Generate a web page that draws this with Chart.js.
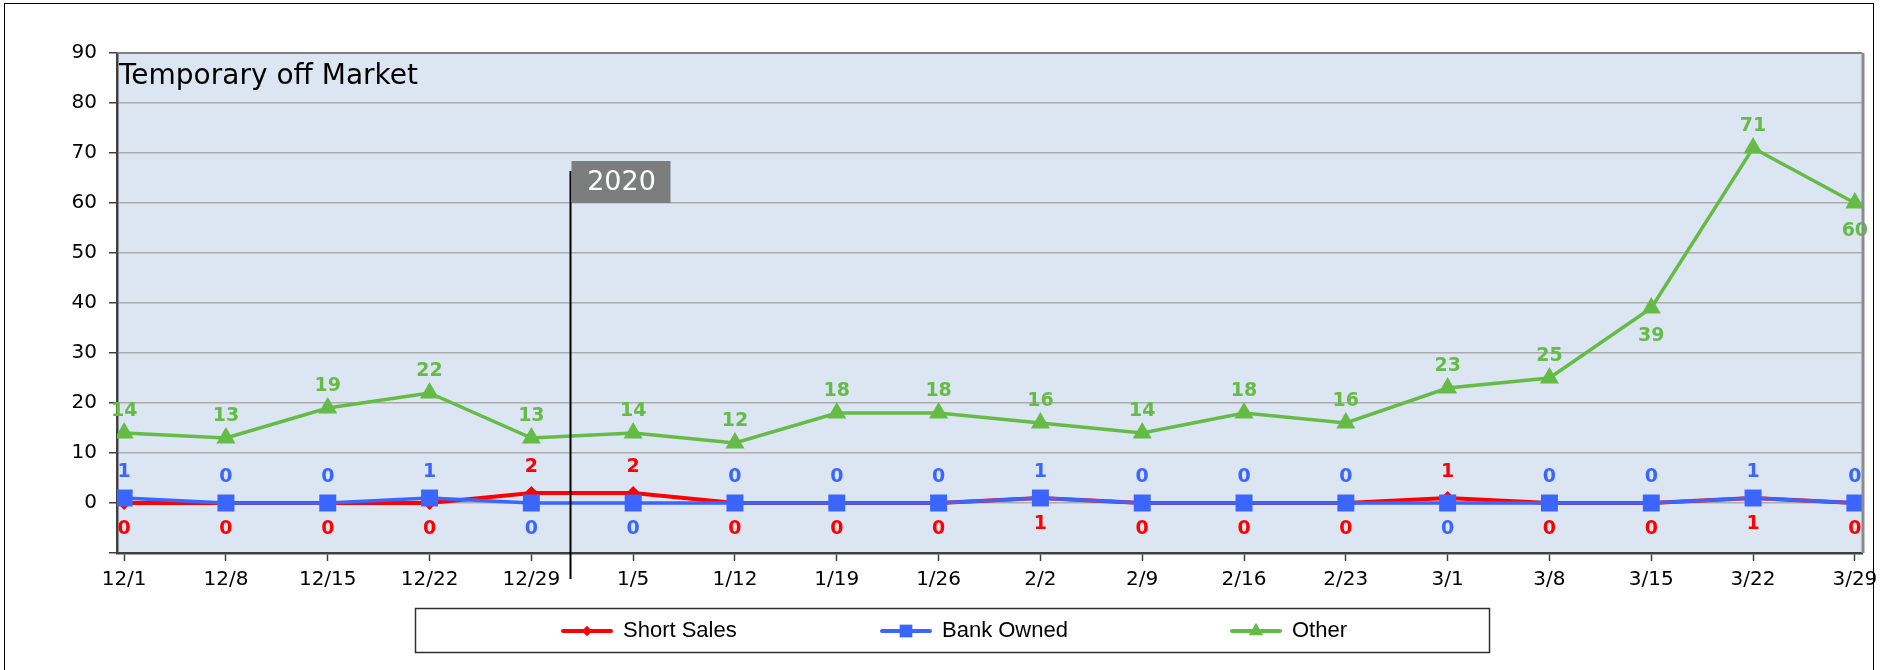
<!DOCTYPE html>
<html>
<head>
<meta charset="utf-8">
<script src="https://cdn.jsdelivr.net/npm/chart.js@4.4.0/dist/chart.umd.min.js"></script>
<style>
    html, body { margin: 0; padding: 0; background: #fff; }
    #wrap { position: relative; width: 1898px; height: 670px; }
</style>
</head>
<body>
<div id="wrap"><canvas id="chart" width="1898" height="670"></canvas></div>
<script>
// Data - START
const WEEKS = ['12/1', '12/8', '12/15', '12/22', '12/29', '1/5', '1/12', '1/19', '1/26',
    '2/2', '2/9', '2/16', '2/23', '3/1', '3/8', '3/15', '3/22', '3/29'];
const SHORT_SALES = [0, 0, 0, 0, 2, 2, 0, 0, 0, 1, 0, 0, 0, 1, 0, 0, 1, 0];
const BANK_OWNED = [1, 0, 0, 1, 0, 0, 0, 0, 0, 1, 0, 0, 0, 0, 0, 0, 1, 0];
const OTHER = [14, 13, 19, 22, 13, 14, 12, 18, 18, 16, 14, 18, 16, 23, 25, 39, 71, 60];
const Y_MIN = -10;
const Y_MAX = 90;
const TITLE = 'Temporary off Market';
const YEAR_MARK = '2020';
// Data - END

// which side of the point each value label sits on
const SHORT_SIDE = ['b', 'b', 'b', 'b', 't', 't', 'b', 'b', 'b', 'b', 'b', 'b', 'b', 't', 'b', 'b', 'b', 'b'];
const BANK_SIDE = ['t', 't', 't', 't', 'b', 'b', 't', 't', 't', 't', 't', 't', 't', 'b', 't', 't', 't', 't'];
const OTHER_SIDE = ['t', 't', 't', 't', 't', 't', 't', 't', 't', 't', 't', 't', 't', 't', 't', 'b', 't', 'b'];

const RED = '#FF0000';
const BLUE = '#3A66FF';
const GREEN = '#64BB46';
const FONT = "'DejaVu Sans', sans-serif";

let toPoints = (arr) => arr.map((v, i) => ({ x: i, y: v }));

// plugins - START
let plotBackground = {
    id: 'plotBackground',
    beforeDraw: (chart) => {
        let ctx = chart.ctx;
        let a = chart.chartArea;
        ctx.save();
        ctx.fillStyle = '#DCE6F2';
        ctx.fillRect(a.left, a.top, a.right - a.left, a.bottom - a.top);
        ctx.restore();
    },
    afterDraw: (chart) => {
        let ctx = chart.ctx;
        let a = chart.chartArea;
        ctx.save();
        // plot top / right frame
        ctx.strokeStyle = '#808080';
        ctx.lineWidth = 2;
        ctx.beginPath();
        ctx.moveTo(a.left, a.top);
        ctx.lineTo(a.right, a.top);
        ctx.stroke();
        ctx.lineWidth = 3;
        ctx.strokeStyle = '#8C8C8C';
        ctx.beginPath();
        ctx.moveTo(a.right + 1, a.top);
        ctx.lineTo(a.right + 1, a.bottom);
        ctx.stroke();

        // outer frame
        ctx.strokeStyle = '#000';
        ctx.lineWidth = 1;
        ctx.strokeRect(4.5, 3.5, 1869, 700);

        // title
        ctx.fillStyle = '#000';
        ctx.font = '28px ' + FONT;
        ctx.textAlign = 'left';
        ctx.textBaseline = 'middle';
        ctx.fillText(TITLE, a.left + 2, 77);

        // 2020 separator
        let xs = chart.scales.x;
        let sx = Math.round(xs.getPixelForValue(4.38)) + 0.5;
        ctx.strokeStyle = '#000';
        ctx.lineWidth = 2;
        ctx.beginPath();
        ctx.moveTo(sx, 171);
        ctx.lineTo(sx, 579);
        ctx.stroke();
        ctx.fillStyle = '#7B7E7C';
        ctx.fillRect(sx + 1, 161, 99, 42);
        ctx.fillStyle = '#fff';
        ctx.font = '27px ' + FONT;
        ctx.textAlign = 'center';
        ctx.fillText(YEAR_MARK, sx + 51, 183);
        ctx.restore();
    }
};

let valueLabels = {
    id: 'valueLabels',
    afterDatasetsDraw: (chart) => {
        let ctx = chart.ctx;
        ctx.save();
        ctx.font = 'bold 19px ' + FONT;
        ctx.textAlign = 'center';
        ctx.textBaseline = 'middle';
        chart.data.datasets.forEach((ds, i) => {
            let meta = chart.getDatasetMeta(i);
            ctx.fillStyle = ds.borderColor;
            meta.data.forEach((pt, j) => {
                let up = ds.labelGap[0];
                let down = ds.labelGap[1];
                let off = ds.labelSide[j] === 't' ? -up : down;
                ctx.fillText(String(ds.data[j].y), pt.x, pt.y + off);
            });
        });
        ctx.restore();
    }
};

let boxLegend = {
    id: 'boxLegend',
    afterDraw: (chart) => {
        let ctx = chart.ctx;
        ctx.save();
        ctx.strokeStyle = '#303030';
        ctx.lineWidth = 1.5;
        ctx.strokeRect(415.5, 608.5, 1074, 44);
        let starts = [563, 882, 1232];
        chart.data.datasets.forEach((ds, i) => {
            let x0 = starts[i];
            let y = 631;
            ctx.strokeStyle = ds.borderColor;
            ctx.lineWidth = 4;
            ctx.lineCap = 'round';
            ctx.beginPath();
            ctx.moveTo(x0, y);
            ctx.lineTo(x0 + 48, y);
            ctx.stroke();
            ctx.fillStyle = ds.borderColor;
            Chart.helpers.drawPoint(ctx, {
                pointStyle: ds.pointStyle,
                radius: ds.pointRadius * 0.75,
                borderWidth: 0
            }, x0 + 24, y);
            ctx.fillStyle = '#000';
            ctx.font = "22px 'Liberation Sans', Arial, sans-serif";
            ctx.textAlign = 'left';
            ctx.textBaseline = 'middle';
            ctx.fillText(ds.label, x0 + 60, y);
        });
        ctx.restore();
    }
};
// plugins - END

let ctx = document.getElementById('chart');
let data = {
    datasets: [{
        label: 'Short Sales',
        data: toPoints(SHORT_SALES),
        labelSide: SHORT_SIDE,
        labelGap: [26, 26],
        borderColor: RED,
        backgroundColor: RED,
        borderWidth: 4,
        pointStyle: 'rectRot',
        pointRadius: 7,
        pointBorderWidth: 0,
        order: 2
    }, {
        label: 'Bank Owned',
        data: toPoints(BANK_OWNED),
        labelSide: BANK_SIDE,
        labelGap: [26, 26],
        borderColor: BLUE,
        backgroundColor: BLUE,
        borderWidth: 3.5,
        pointStyle: 'rect',
        pointRadius: 12,
        pointBorderWidth: 0,
        order: 1
    }, {
        label: 'Other',
        data: toPoints(OTHER),
        labelSide: OTHER_SIDE,
        labelGap: [22, 28],
        borderColor: GREEN,
        backgroundColor: GREEN,
        borderWidth: 3.5,
        pointStyle: 'triangle',
        pointRadius: 11,
        pointBorderWidth: 0,
        order: 3
    }]
};

let config = {
    type: 'line',
    data: data,
    options: {
        responsive: false,
        animation: false,
        devicePixelRatio: 1,
        layout: { padding: { top: 53, right: 36, left: 0, bottom: 0 } },
        plugins: {
            legend: { display: false },
            tooltip: { enabled: false }
        },
        elements: { line: { tension: 0 } },
        scales: {
            x: {
                type: 'linear',
                min: -0.07,
                max: WEEKS.length - 1 + 0.07,
                afterFit: (s) => { s.height = 117; },
                afterBuildTicks: (s) => {
                    s.ticks = WEEKS.map((w, i) => ({ value: i }));
                },
                grid: {
                    drawOnChartArea: false,
                    drawTicks: true,
                    tickLength: 8,
                    tickColor: '#404040',
                    tickWidth: 1.5
                },
                border: { color: '#404040', width: 2.5 },
                ticks: {
                    color: '#000',
                    font: { family: FONT, size: 20 },
                    padding: 7,
                    maxRotation: 0,
                    autoSkip: false,
                    callback: (v) => WEEKS[v]
                }
            },
            y: {
                min: Y_MIN,
                max: Y_MAX,
                afterFit: (s) => { s.width = 117; },
                grid: {
                    color: (c) => c.tick.value === Y_MAX ? '#808080' : '#ABABAB',
                    lineWidth: 1.5,
                    tickLength: 8,
                    tickColor: '#404040',
                    tickWidth: 1.5
                },
                border: { color: '#404040', width: 2.5 },
                ticks: {
                    stepSize: 10,
                    color: '#000',
                    font: { family: FONT, size: 20 },
                    padding: 12,
                    callback: (v) => v === Y_MIN ? '' : v
                }
            }
        }
    },
    plugins: [plotBackground, valueLabels, boxLegend]
};
let offMarketChart = new Chart(ctx, config);
</script>
</body>
</html>
